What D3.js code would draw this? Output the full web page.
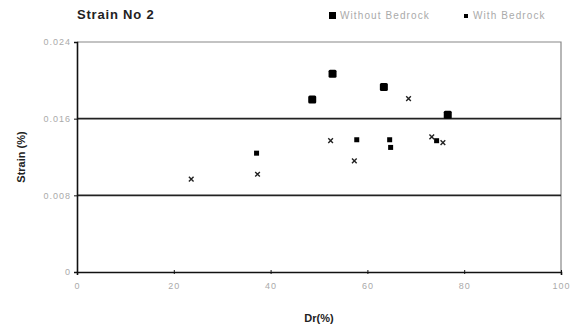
<!DOCTYPE html>
<html>
<head>
<meta charset="utf-8">
<script src="https://cdn.jsdelivr.net/npm/d3@7"></script>
<style>
  body { margin: 0; background: #fff; }
  svg text { font-family: "Liberation Sans", Arial, sans-serif; }
</style>
</head>
<body>
<div id="canvas"></div>
<script>
// ---- DATA ----
var withoutDr = [48.6, 52.8, 63.4, 76.6];
var withoutStrain = [0.0180, 0.0207, 0.0193, 0.0164];

var withDr = [37.1, 57.8, 64.6, 64.8, 74.3];
var withStrain = [0.0124, 0.0138, 0.0138, 0.0130, 0.0137];

var crossDr = [23.6, 37.3, 52.4, 57.3, 68.5, 73.3, 75.6];
var crossStrain = [0.0097, 0.0102, 0.0137, 0.0116, 0.0181, 0.0141, 0.0135];

var xTicks = [0, 20, 40, 60, 80, 100];
var yTicks = [0, 0.008, 0.016, 0.024];
var yTickLabels = ['0', '0.008', '0.016', '0.024'];

// ---- CONVENTIONS ----
var outerWidth = 571, outerHeight = 328;
var margin = {top: 42, right: 10, bottom: 55, left: 77};
var width = 561 - margin.left,
    height = 272 - margin.top;

var svg = d3.select('#canvas')
    .append('svg')
    .attr('width', outerWidth)
    .attr('height', outerHeight);

var plot = svg.append('g')
    .attr('transform', 'translate(' + margin.left + ',' + margin.top + ')');

// ---- SCALES ----
var scaleX = d3.scaleLinear().domain([0, 100]).range([0, width]);
var scaleY = d3.scaleLinear().domain([0, 0.024]).range([height, 0]);

// plot border (right + top, gray)
plot.append('path')
    .attr('d', 'M0,0H' + width + 'V' + height)
    .style('fill', 'none')
    .style('stroke', '#888')
    .style('stroke-width', 1.2);

// gridlines
plot.selectAll('.grid')
    .data([0.008, 0.016])
    .enter().append('line')
    .attr('class', 'grid')
    .attr('x1', 0).attr('x2', width)
    .attr('y1', function(d){ return scaleY(d); })
    .attr('y2', function(d){ return scaleY(d); })
    .style('stroke', '#222')
    .style('stroke-width', 1.6);

// ---- AXES ----
var axisX = d3.axisBottom(scaleX).tickValues(xTicks).tickSize(3).tickFormat(d3.format('d'));
var axisY = d3.axisLeft(scaleY).tickValues(yTicks).tickSize(3)
    .tickFormat(function(d, i){ return yTickLabels[i]; });

var gx = plot.append('g').attr('class', 'axis axis-x')
    .attr('transform', 'translate(0,' + height + ')')
    .call(axisX);
var gy = plot.append('g').attr('class', 'axis axis-y')
    .call(axisY);

[gx, gy].forEach(function(g){
    g.select('.domain').style('stroke', '#111').style('stroke-width', 1.6);
    g.selectAll('.tick line').style('stroke', '#111');
    g.selectAll('.tick text').style('fill', '#aaa').style('font-size', '9px')
        .style('letter-spacing', '1px');
});
gx.selectAll('.tick line').attr('y1', -2).attr('y2', 2);
gx.selectAll('.tick text').attr('y', 11);
gy.selectAll('.tick text').attr('x', -6);

// ---- MARKS ----
plot.selectAll('.without')
    .data(withoutDr)
    .enter().append('rect')
    .attr('class', 'without')
    .attr('x', function(d){ return scaleX(d) - 4; })
    .attr('y', function(d, i){ return scaleY(withoutStrain[i]) - 4; })
    .attr('width', 8).attr('height', 8)
    .attr('rx', 1.5)
    .style('fill', '#000');

plot.selectAll('.with')
    .data(withDr)
    .enter().append('rect')
    .attr('class', 'with')
    .attr('x', function(d){ return scaleX(d) - 2.5; })
    .attr('y', function(d, i){ return scaleY(withStrain[i]) - 2.5; })
    .attr('width', 5).attr('height', 5)
    .style('fill', '#000');

var cross = d3.symbol().type(d3.symbolX).size(16);
plot.selectAll('.cross')
    .data(crossDr)
    .enter().append('path')
    .attr('class', 'cross')
    .attr('d', cross)
    .attr('transform', function(d, i){
        return 'translate(' + scaleX(d) + ',' + scaleY(crossStrain[i]) + ')';
    })
    .style('fill', 'none')
    .style('stroke', '#222')
    .style('stroke-width', 1.4);

// ---- TEXT ----
svg.append('text')
    .attr('x', 77).attr('y', 19)
    .style('font-size', '13px')
    .style('font-weight', 'bold')
    .style('fill', '#222')
    .style('letter-spacing', '0.8px')
    .text('Strain No 2');

svg.append('text')
    .attr('x', 319).attr('y', 322)
    .attr('text-anchor', 'middle')
    .style('font-size', '11px')
    .style('font-weight', 'bold')
    .style('fill', '#222')
    .text('Dr(%)');

svg.append('text')
    .attr('transform', 'translate(25,157) rotate(-90)')
    .attr('text-anchor', 'middle')
    .style('font-size', '11px')
    .style('font-weight', 'bold')
    .style('fill', '#222')
    .text('Strain (%)');

// ---- LEGEND ----
var legend = svg.append('g');
legend.append('rect').attr('x', 329).attr('y', 12).attr('width', 7).attr('height', 7).style('fill', '#000');
legend.append('text').attr('x', 340).attr('y', 19)
    .style('font-size', '10px').style('fill', '#aaa').style('letter-spacing', '1.1px')
    .text('Without Bedrock');
legend.append('rect').attr('x', 464).attr('y', 14).attr('width', 4).attr('height', 4).style('fill', '#000');
legend.append('text').attr('x', 473).attr('y', 19)
    .style('font-size', '10px').style('fill', '#aaa').style('letter-spacing', '1.1px')
    .text('With Bedrock');
</script>
</body>
</html>
